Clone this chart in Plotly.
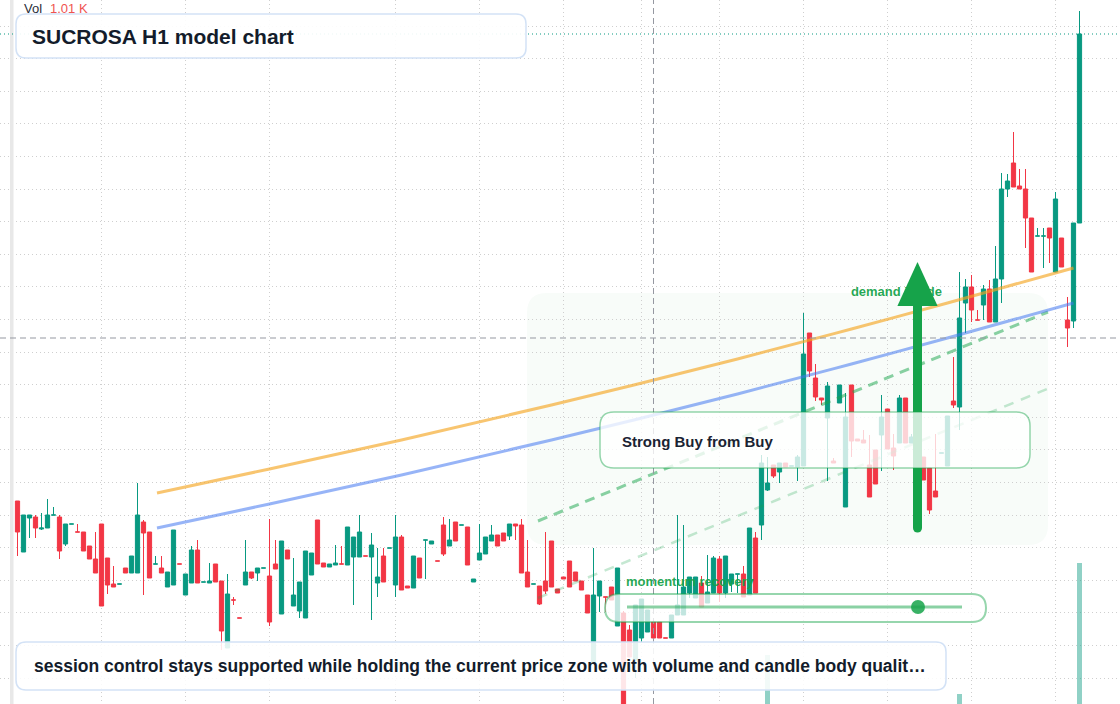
import plotly.graph_objects as go

W, H = 1120, 704
FONT = "Liberation Sans, Arial, Helvetica, sans-serif"
UP, DOWN = "#089981", "#f23645"
GREEN = "#16a34a"

# ---------------- data ----------------
open_ = [19.99, 19.48, 19.82, 19.83, 19.71, 19.72, 19.85, 19.83, 19.56, 19.76,
         19.68, 19.68, 19.54, 19.41, 19.76, 19.42, 19.16, 19.16, 19.32, 19.27,
         19.27, 19.78, 19.68, 19.36, 19.32, 19.13, 19.15, 19.36, 19.05, 19.17,
         19.50, 19.18, 19.17, 19.36, 19.19, 18.52, 19.00, 18.82, 19.15, 19.28,
         19.27, 19.32, 19.24, 19.36, 18.86, 19.50, 18.94, 18.89, 18.82, 19.25,
         19.80, 19.37, 19.33, 19.35, 19.36, 19.35, 19.43, 19.43, 19.44, 19.43,
         19.17, 19.44, 19.52, 19.15, 19.63, 19.14, 19.12, 19.42, 19.60, 19.56,
         19.39, 19.75, 19.54, 19.78, 19.75, 19.73, 19.18, 19.40, 19.46, 19.59,
         19.65, 19.67, 19.64, 19.76, 19.75, 19.28, 19.16, 19.14, 19.19, 19.59,
         19.11, 19.23, 19.39, 19.28, 19.19, 19.05, 18.37, 19.04, 19.03, 19.13,
         18.74, 18.87, 18.70, 18.40, 18.62, 18.68, 18.78, 18.78, 18.62, 18.62,
         18.85, 18.85, 19.07, 19.02, 19.17, 18.97, 19.07, 19.41, 19.07, 19.16,
         19.26, 19.26, 19.05, 19.62, 19.75, 20.10, 20.35, 20.28, 20.37, 20.34,
         20.33, 20.34, 21.67, 21.22, 21.02, 20.82, 20.39, 20.97, 19.93, 21.15,
         20.61, 20.60, 20.35, 20.50, 20.65, 20.91, 20.52, 20.57, 21.02, 20.57,
         20.45, 20.43, 20.32, 20.09, 20.47, 20.34, 20.99, 20.93, 21.97, 22.13,
         21.80, 21.95, 22.11, 21.78, 22.21, 23.11, 23.37, 23.14, 23.11, 22.82,
         22.64, 22.64, 22.72, 22.28, 22.62, 21.80, 21.79, 22.77]

high = [19.99, 19.85, 19.85, 19.85, 19.87, 20.01, 19.93, 19.85, 19.76, 19.76,
        19.76, 19.68, 19.54, 19.68, 19.76, 19.42, 19.34, 19.16, 19.32, 19.44,
        20.17, 19.80, 19.68, 19.44, 19.44, 19.28, 19.70, 19.36, 19.26, 19.54,
        19.60, 19.18, 19.37, 19.36, 19.19, 19.26, 19.03, 18.82, 19.60, 19.28,
        19.32, 19.32, 19.81, 19.60, 19.59, 19.50, 19.42, 19.18, 19.49, 19.47,
        19.80, 19.37, 19.36, 19.55, 19.54, 19.73, 19.63, 19.85, 19.44, 19.67,
        19.52, 19.52, 19.52, 19.85, 19.65, 19.14, 19.44, 19.42, 19.60, 19.59,
        19.39, 19.83, 19.81, 19.78, 19.75, 19.73, 19.21, 19.76, 19.63, 19.75,
        19.65, 19.67, 19.76, 19.76, 19.81, 19.60, 19.16, 19.14, 19.68, 19.59,
        19.11, 19.23, 19.39, 19.28, 19.19, 19.05, 19.52, 19.19, 19.03, 19.13,
        19.32, 18.89, 18.75, 18.95, 19.01, 18.90, 18.80, 18.78, 18.62, 18.85,
        19.85, 19.75, 19.23, 19.23, 19.24, 19.45, 19.44, 19.44, 19.44, 19.26,
        19.26, 19.34, 19.72, 19.68, 20.45, 20.43, 20.35, 20.37, 20.37, 20.34,
        20.45, 21.87, 21.67, 21.36, 21.02, 21.18, 20.42, 21.15, 21.07, 21.15,
        20.61, 20.70, 20.65, 20.50, 21.05, 20.91, 20.66, 21.05, 21.02, 20.66,
        20.45, 20.43, 20.32, 20.66, 20.47, 20.84, 21.43, 22.28, 22.21, 22.25,
        21.90, 22.15, 22.20, 22.54, 23.27, 23.26, 23.68, 23.31, 23.31, 22.82,
        22.72, 22.72, 22.72, 23.08, 22.62, 22.03, 22.77, 24.89]

low = [19.44, 19.48, 19.62, 19.62, 19.70, 19.72, 19.85, 19.41, 19.54, 19.76,
       19.68, 19.49, 19.41, 19.27, 18.94, 19.06, 19.13, 19.16, 19.27, 19.27,
       19.27, 19.05, 19.22, 19.36, 19.27, 19.13, 19.15, 19.36, 19.05, 19.17,
       19.17, 19.18, 19.17, 19.18, 18.50, 18.52, 18.95, 18.82, 19.15, 19.21,
       19.19, 19.32, 18.74, 19.31, 18.86, 19.41, 18.94, 18.82, 18.82, 19.25,
       19.36, 19.33, 19.33, 19.35, 19.36, 19.35, 18.95, 19.43, 19.44, 18.80,
       19.03, 19.18, 19.52, 19.03, 19.10, 19.12, 19.12, 19.22, 19.21, 19.56,
       19.39, 19.44, 19.54, 19.59, 19.75, 19.35, 19.18, 19.40, 19.46, 19.59,
       19.54, 19.59, 19.60, 19.60, 19.27, 19.13, 19.16, 18.95, 19.06, 19.13,
       19.07, 19.21, 19.13, 19.19, 19.10, 18.87, 18.37, 18.88, 18.88, 19.00,
       18.74, 17.75, 18.43, 18.22, 18.58, 18.68, 18.62, 18.62, 18.62, 18.62,
       18.85, 18.85, 19.02, 19.02, 18.93, 18.97, 19.07, 18.98, 19.02, 19.08,
       19.07, 19.03, 19.05, 19.07, 19.60, 20.09, 20.22, 20.17, 20.33, 20.34,
       20.19, 20.34, 21.23, 20.99, 20.95, 20.19, 20.37, 20.97, 19.93, 20.43,
       20.59, 20.57, 20.03, 20.16, 20.29, 20.51, 20.30, 20.57, 20.57, 20.57,
       20.20, 20.20, 19.86, 20.03, 20.47, 20.34, 20.92, 20.70, 21.67, 21.78,
       21.80, 21.80, 21.78, 21.78, 21.97, 23.03, 23.13, 23.11, 22.52, 22.28,
       22.64, 22.32, 22.37, 22.28, 22.33, 21.53, 21.72, 22.77]

close = [19.68, 19.85, 19.85, 19.72, 19.72, 19.85, 19.85, 19.49, 19.76, 19.76,
         19.68, 19.49, 19.41, 19.27, 18.94, 19.15, 19.13, 19.16, 19.27, 19.44,
         19.85, 19.67, 19.22, 19.36, 19.27, 19.28, 19.70, 19.36, 19.26, 19.50,
         19.17, 19.18, 19.19, 19.18, 18.69, 19.06, 19.00, 18.82, 19.28, 19.22,
         19.32, 19.32, 18.78, 19.31, 19.59, 19.41, 19.05, 19.18, 19.49, 19.47,
         19.36, 19.33, 19.36, 19.37, 19.36, 19.73, 19.63, 19.68, 19.44, 19.55,
         19.23, 19.18, 19.52, 19.63, 19.10, 19.12, 19.44, 19.22, 19.60, 19.59,
         19.39, 19.46, 19.60, 19.59, 19.75, 19.35, 19.21, 19.47, 19.63, 19.65,
         19.54, 19.59, 19.76, 19.74, 19.27, 19.13, 19.16, 18.96, 19.09, 19.13,
         19.07, 19.21, 19.13, 19.19, 19.10, 18.87, 19.05, 19.19, 19.03, 19.00,
         19.32, 17.80, 18.43, 18.95, 19.01, 18.90, 18.62, 18.62, 18.62, 18.85,
         18.95, 19.13, 19.23, 19.23, 18.93, 19.08, 19.42, 19.07, 19.44, 19.26,
         19.26, 19.03, 19.72, 19.07, 20.37, 20.17, 20.24, 20.37, 20.33, 20.34,
         20.43, 21.46, 21.29, 21.03, 21.00, 21.14, 20.37, 21.15, 20.83, 20.59,
         20.59, 20.57, 20.03, 20.16, 20.83, 20.51, 20.44, 21.02, 20.57, 20.63,
         20.20, 20.20, 19.90, 20.03, 20.47, 20.84, 20.95, 21.82, 22.13, 21.90,
         21.80, 22.11, 21.78, 22.21, 23.11, 23.19, 23.13, 23.11, 22.82, 22.28,
         22.64, 22.64, 22.62, 23.01, 22.33, 21.72, 22.77, 24.66]

volume = [3, 2, 2, 2, 1, 2, 1, 3, 2, 1,
          1, 2, 2, 2, 3, 2, 1, 1, 1, 2,
          3, 3, 2, 1, 1, 2, 3, 1, 2, 2,
          2, 1, 1, 2, 3, 3, 1, 1, 2, 1,
          1, 1, 3, 1, 3, 1, 2, 2, 3, 2,
          3, 1, 1, 1, 1, 2, 2, 2, 1, 2,
          2, 2, 1, 3, 3, 1, 2, 2, 1, 1,
          1, 2, 2, 2, 1, 2, 1, 2, 2, 1,
          1, 1, 1, 1, 3, 2, 1, 2, 2, 3,
          1, 1, 2, 1, 1, 2, 3, 2, 1, 1,
          3, 3, 2, 3, 2, 2, 2, 2, 1, 2,
          3, 3, 2, 2, 2, 2, 2, 2, 2, 1,
          1, 2, 3, 3, 3, 354, 1, 1, 1, 1,
          1, 3, 2, 2, 1, 2, 1, 1, 2, 2,
          1, 1, 2, 2, 2, 2, 1, 2, 2, 1,
          2, 2, 2, 2, 1, 2, 2, 72, 2, 2,
          1, 2, 2, 3, 3, 1, 2, 1, 2, 2,
          1, 1, 1, 3, 2, 1, 3, 1010]

bars = list(range(len(open_)))

# time-axis grid positions (bar indices) and annotation anchors
grid_bars = [14, 28, 42, 63, 77, 91, 104, 117, 131, 145, 159, 173]
crosshair_bar, crosshair_price = 106, 21.62

orange_x = [23.25, 42, 64, 89, 120, 139, 155, 176]
orange_y = [20.07, 20.31, 20.60, 20.95, 21.41, 21.71, 21.97, 22.32]
blue_x = [23.25, 42, 64, 89, 120, 139, 155, 176]
blue_y = [19.72, 19.96, 20.25, 20.60, 21.06, 21.36, 21.62, 21.97]
green_dash_x = [86.75, 171.75]
green_dash_y = [19.79, 21.88]
green_light_x = [86.75, 172.0]
green_light_y = [19.02, 21.12]

arrow_bar = 150
arrow_from, arrow_neck, arrow_tip = 19.72, 21.94, 22.38

# ---------------- helpers (layout decoration in pixels) ----------------
def px(x):
    return x / W


def py(y):
    return 1 - y / H


def rrect(x0, y0, x1, y1, r):
    rx, ry = r / W, r / H
    X0, X1, T, B = px(x0), px(x1), py(y0), py(y1)
    return (f"M {X0+rx},{T} L {X1-rx},{T} Q {X1},{T} {X1},{T-ry} "
            f"L {X1},{B+ry} Q {X1},{B} {X1-rx},{B} L {X0+rx},{B} "
            f"Q {X0},{B} {X0},{B+ry} L {X0},{T-ry} Q {X0},{T} {X0+rx},{T} Z")


fig = go.Figure()

# labels that sit beneath the candles
fig.add_trace(go.Scatter(x=[101.4], y=[19.17], mode="text", text=["<b>momentum recovery</b>"],
                         textposition="middle right",
                         textfont=dict(family=FONT, size=13, color="rgba(22,163,74,0.95)"),
                         hoverinfo="skip"))
fig.add_trace(go.Scatter(x=[138.9], y=[22.07], mode="text", text=["<b>demand inside</b>"],
                         textposition="middle right",
                         textfont=dict(family=FONT, size=13, color="rgba(22,163,74,0.95)"),
                         hoverinfo="skip"))

fig.add_trace(go.Candlestick(
    x=bars, open=open_, high=high, low=low, close=close,
    increasing=dict(line=dict(color=UP, width=1), fillcolor=UP),
    decreasing=dict(line=dict(color=DOWN, width=1), fillcolor=DOWN),
    whiskerwidth=0, hoverinfo="skip"))

fig.add_trace(go.Scatter(x=green_light_x, y=green_light_y, mode="lines",
                         line=dict(color="rgba(22,163,74,0.25)", width=2.5, dash="10px,8px"),
                         hoverinfo="skip"))
fig.add_trace(go.Scatter(x=green_dash_x, y=green_dash_y, mode="lines",
                         line=dict(color="rgba(22,163,74,0.5)", width=3, dash="10px,7px"),
                         hoverinfo="skip"))
fig.add_trace(go.Scatter(x=blue_x, y=blue_y, mode="lines", line_shape="spline",
                         line=dict(color="rgba(66,118,240,0.55)", width=3), hoverinfo="skip"))
fig.add_trace(go.Scatter(x=orange_x, y=orange_y, mode="lines", line_shape="spline",
                         line=dict(color="rgba(245,166,35,0.65)", width=3), hoverinfo="skip"))

vol_colors = ["rgba(8,153,129,0.45)" if c >= o else "rgba(242,54,69,0.45)"
              for o, c in zip(open_, close)]
fig.add_trace(go.Bar(x=bars, y=volume, yaxis="y2", width=0.8,
                     marker=dict(color=vol_colors, line=dict(width=0)), hoverinfo="skip"))

shapes = []
# demand zone tint
shapes.append(dict(type="path", xref="paper", yref="paper", path=rrect(527, 293, 1048, 545, 20),
                   fillcolor="rgba(22,163,74,0.03)", line=dict(width=0), layer="below"))
# left scale strip
shapes.append(dict(type="rect", xref="paper", yref="paper", x0=px(10), x1=px(13.5), y0=0, y1=1,
                   fillcolor="#e8e8e8", line=dict(width=0), layer="above"))
# last price line
shapes.append(dict(type="line", xref="paper", yref="y", x0=0, x1=1, y0=close[-1], y1=close[-1],
                   line=dict(color=UP, width=1, dash="1px,3px"), layer="above"))
# crosshair
shapes.append(dict(type="line", xref="paper", yref="y", x0=0, x1=1, y0=crosshair_price,
                   y1=crosshair_price, line=dict(color="#9598a1", width=1, dash="6px,4px"),
                   layer="above"))
shapes.append(dict(type="line", xref="x", yref="paper", x0=crosshair_bar, x1=crosshair_bar,
                   y0=0, y1=1, line=dict(color="#9598a1", width=1, dash="6px,4px"), layer="above"))
# arrow
shapes.append(dict(type="line", xref="x", yref="y", x0=arrow_bar, x1=arrow_bar, y0=arrow_from,
                   y1=arrow_neck, line=dict(color=GREEN, width=9), layer="above"))
shapes.append(dict(type="circle", xref="x", yref="y", xsizemode="pixel", ysizemode="pixel",
                   xanchor=arrow_bar, yanchor=arrow_from, x0=-4.5, x1=4.5, y0=-4.5, y1=4.5,
                   fillcolor=GREEN, line=dict(width=0), layer="above"))
shapes.append(dict(type="path", xref="x", yref="y",
                   path=f"M {arrow_bar-3.35},{arrow_neck} L {arrow_bar},{arrow_tip} "
                        f"L {arrow_bar+3.35},{arrow_neck} Z",
                   fillcolor=GREEN, line=dict(width=0), layer="above"))
# Strong Buy box
shapes.append(dict(type="path", xref="paper", yref="paper", path=rrect(600, 412, 1030, 468, 14),
                   fillcolor="rgba(255,255,255,0.78)",
                   line=dict(color="rgba(22,163,74,0.45)", width=1.5), layer="above"))
# momentum slider
shapes.append(dict(type="path", xref="paper", yref="paper", path=rrect(605, 594, 986, 622, 14),
                   fillcolor="rgba(255,255,255,0.75)",
                   line=dict(color="rgba(22,163,74,0.45)", width=2), layer="above"))
shapes.append(dict(type="line", xref="paper", yref="paper", x0=px(627), x1=px(962),
                   y0=py(607), y1=py(607), line=dict(color="rgba(22,163,74,0.5)", width=3),
                   layer="above"))
shapes.append(dict(type="circle", xref="paper", yref="paper", x0=px(911), x1=px(925),
                   y0=py(614), y1=py(600), fillcolor="rgba(22,163,74,0.85)",
                   line=dict(width=0), layer="above"))
# title and caption boxes
shapes.append(dict(type="path", xref="paper", yref="paper", path=rrect(16, 14, 526, 58, 10),
                   fillcolor="rgba(255,255,255,0.92)", line=dict(color="#d3e2f6", width=1.5),
                   layer="above"))
shapes.append(dict(type="path", xref="paper", yref="paper", path=rrect(16, 642, 946, 690, 10),
                   fillcolor="rgba(255,255,255,0.88)", line=dict(color="#d3e2f6", width=1.5),
                   layer="above"))

annotations = [
    dict(text="<b>SUCROSA H1 model chart</b>", x=px(30), y=py(36), xref="paper", yref="paper",
         xanchor="left", yanchor="middle", showarrow=False,
         font=dict(family=FONT, size=21, color="#131c2b")),
    dict(text="<b>session control stays supported while holding the current price zone with "
              "volume and candle body qualit…</b>",
         x=px(32), y=py(666), xref="paper", yref="paper", xanchor="left", yanchor="middle",
         showarrow=False, font=dict(family=FONT, size=17.5, color="#131c2b")),
    dict(text="<b>Strong Buy from Buy</b>", x=px(620), y=py(441), xref="paper", yref="paper",
         xanchor="left", yanchor="middle", showarrow=False,
         font=dict(family=FONT, size=15, color="#1a2332")),
    dict(text="Vol", x=px(22), y=py(8.5), xref="paper", yref="paper", xanchor="left",
         yanchor="middle", showarrow=False, font=dict(family=FONT, size=13, color="#2a2e39")),
    dict(text=f"{volume[-1] / 1000:.2f} K", x=px(48), y=py(8.5), xref="paper", yref="paper",
         xanchor="left", yanchor="middle", showarrow=False,
         font=dict(family=FONT, size=13, color="#ef5350")),
]

fig.update_layout(
    width=W, height=H, margin=dict(l=0, r=0, t=0, b=0),
    paper_bgcolor="white", plot_bgcolor="white", showlegend=False,
    boxgap=0.3, boxgroupgap=0, bargap=0,
    shapes=shapes, annotations=annotations,
    xaxis=dict(range=[-17.5 / 6, (W - 17.5) / 6], tickvals=grid_bars, showticklabels=False,
               showgrid=True, gridcolor="#cfcfcf", gridwidth=1, griddash="1px,3px",
               zeroline=False, showline=False, ticks="", rangeslider=dict(visible=False),
               fixedrange=True),
    yaxis=dict(range=[17.96, 25.0], tick0=24.74, dtick=0.326, showticklabels=False,
               showgrid=True, gridcolor="#cfcfcf", gridwidth=1, griddash="1px,3px",
               zeroline=False, showline=False, ticks="", fixedrange=True),
    yaxis2=dict(overlaying="y", range=[0, 5050], visible=False, showgrid=False,
                fixedrange=True),
)

fig.write_html("out.html", config={"displayModeBar": False, "staticPlot": True})
